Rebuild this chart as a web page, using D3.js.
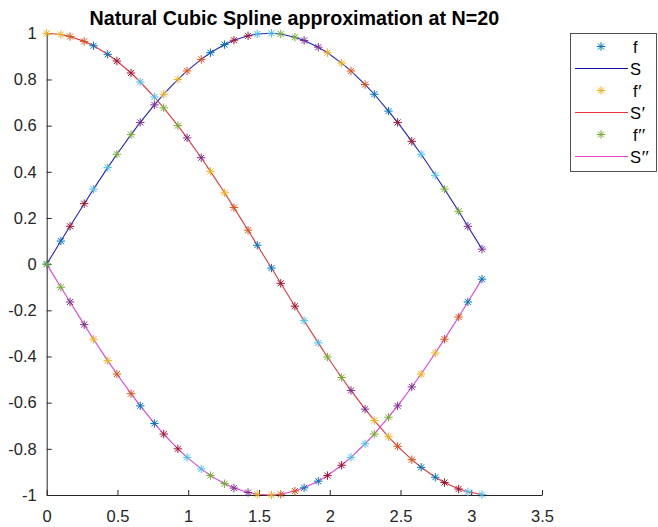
<!DOCTYPE html>
<html>
<head>
<meta charset="utf-8">
<script src="https://cdn.jsdelivr.net/npm/d3@7"></script>
<style>
  body { margin: 0; background: #fff; }
  svg { font-family: "Liberation Sans", Arial, Helvetica, sans-serif; }
</style>
</head>
<body>
<svg id="chart" width="658" height="527"></svg>
<script>
// sample points: two per knot interval (knot, knot + 0.1)
var xs = [0.000, 0.100, 0.165, 0.265, 0.331, 0.431, 0.496, 0.596, 0.661, 0.761,
          0.827, 0.927, 0.992, 1.092, 1.157, 1.257, 1.323, 1.423, 1.488, 1.588,
          1.654, 1.754, 1.819, 1.919, 1.984, 2.084, 2.150, 2.250, 2.315, 2.415,
          2.480, 2.580, 2.646, 2.746, 2.811, 2.911, 2.976, 3.076];
var fVals = [0.000, 0.100, 0.164, 0.262, 0.325, 0.418, 0.476, 0.561, 0.614, 0.690,
             0.736, 0.800, 0.837, 0.887, 0.916, 0.951, 0.970, 0.989, 0.997, 1.000,
             0.997, 0.983, 0.969, 0.940, 0.916, 0.871, 0.837, 0.778, 0.736, 0.663,
             0.614, 0.532, 0.476, 0.385, 0.325, 0.229, 0.164, 0.065];
var dfVals = [1.000, 0.995, 0.986, 0.965, 0.946, 0.909, 0.880, 0.828, 0.789, 0.724,
              0.677, 0.600, 0.547, 0.461, 0.402, 0.309, 0.245, 0.147, 0.082, -0.017,
              -0.083, -0.182, -0.245, -0.341, -0.402, -0.491, -0.547, -0.628, -0.677, -0.748,
              -0.789, -0.847, -0.880, -0.923, -0.946, -0.974, -0.986, -0.998];
var ddfVals = [0.000, -0.100, -0.164, -0.262, -0.325, -0.418, -0.476, -0.561, -0.614, -0.690,
               -0.736, -0.800, -0.837, -0.887, -0.916, -0.951, -0.970, -0.989, -0.997, -1.000,
               -0.997, -0.983, -0.969, -0.940, -0.916, -0.871, -0.837, -0.778, -0.736, -0.663,
               -0.614, -0.532, -0.476, -0.385, -0.325, -0.229, -0.164, -0.065];
// spline values coincide with the exact ones at this resolution
var sVals = fVals, dsVals = dfVals, ddsVals = ddfVals;

var xTicks = [0, 0.5, 1, 1.5, 2, 2.5, 3, 3.5];
var yTicks = [-1, -0.8, -0.6, -0.4, -0.2, 0, 0.2, 0.4, 0.6, 0.8, 1];
var legendLabels = ['f', 'S', 'f', 'S', 'f', 'S'];
var legendPrimes = ['', '', '\u2032', '\u2032', '\u2033', '\u2033'];

var colorOrder = ['#0072BD', '#D95319', '#EDB120', '#7E2F8E', '#77AC30', '#4DBEEE', '#A2142F'];
var axisColor = '#262626';

var svg = d3.select('#chart');
var x = d3.scaleLinear().domain([0, 3.5]).range([46.7, 542]);
var y = d3.scaleLinear().domain([-1, 1]).range([495, 33.3]);

// matlab style labels: plain hyphen for minus
var fmt = function (d) { return String(d); };

// axes (ticks point inward, no box)
var xAxis = d3.axisBottom(x).tickValues(xTicks).tickSizeInner(-5).tickSizeOuter(0)
    .tickPadding(15).tickFormat(fmt);
var yAxis = d3.axisLeft(y).tickValues(yTicks).tickSizeInner(-5).tickSizeOuter(0)
    .tickPadding(10).tickFormat(fmt);

var gx = svg.append('g').attr('transform', 'translate(0,' + y(-1) + ')').call(xAxis);
var gy = svg.append('g').attr('transform', 'translate(' + x(0) + ',0)').call(yAxis);
[gx, gy].forEach(function (g) {
    g.select('.domain').attr('stroke', axisColor).attr('stroke-width', 1);
    g.selectAll('.tick line').attr('stroke', axisColor);
    g.selectAll('.tick text').attr('fill', axisColor).style('font-size', '16.5px')
        .style('font-family', '"Liberation Sans", Arial, sans-serif');
});

svg.append('text')
    .attr('x', (x(0) + x(3.5)) / 2).attr('y', 25)
    .attr('text-anchor', 'middle')
    .style('font-size', '19.7px').style('font-weight', 'bold').attr('fill', '#000')
    .text('Natural Cubic Spline approximation at N=20');

var plot = svg.append('g');
var lineFor = function (vals) {
    return d3.line().x(function (d, i) { return x(xs[i]); }).y(function (d) { return y(d); })(vals);
};
var lines = [
    { vals: sVals, color: '#2424c8' },
    { vals: dsVals, color: '#e8353a' },
    { vals: ddsVals, color: '#e53de0' }
];
lines.forEach(function (l) {
    plot.append('path').attr('d', lineFor(l.vals))
        .attr('fill', 'none').attr('stroke', l.color).attr('stroke-width', 1.1);
});

var starPath = 'M-4.2,0H4.2M0,-4.2V4.2M-3,-3L3,3M-3,3L3,-3';
// each interval was plotted as its own series, so the colour order advances per pair
var markerSets = [
    { vals: fVals, offset: 0 },
    { vals: dfVals, offset: 2 },
    { vals: ddfVals, offset: 4 }
];
markerSets.forEach(function (m) {
    plot.selectAll(null)
        .data(m.vals)
        .enter()
        .append('path')
        .attr('d', starPath)
        .attr('transform', function (d, i) { return 'translate(' + x(xs[i]) + ',' + y(d) + ')'; })
        .attr('fill', 'none')
        .attr('stroke-width', 1)
        .attr('stroke', function (d, i) {
            var pair = Math.floor(i / 2);
            return colorOrder[(6 * pair + m.offset) % 7];
        });
});

// legend
var lg = svg.append('g');
lg.append('rect').attr('x', 570.5).attr('y', 33.5).attr('width', 86).attr('height', 138)
    .attr('fill', '#fff').attr('stroke', axisColor).attr('stroke-width', 0.8);
var legendStyle = [
    { type: 'marker', color: colorOrder[0] },
    { type: 'line', color: '#1010a0' },
    { type: 'marker', color: colorOrder[2] },
    { type: 'line', color: '#e8353a' },
    { type: 'marker', color: colorOrder[4] },
    { type: 'line', color: '#e53de0' }
];
legendLabels.forEach(function (lab, i) {
    var cy = 46.5 + i * 22;
    var s = legendStyle[i];
    if (s.type === 'marker') {
        lg.append('path').attr('d', starPath).attr('transform', 'translate(601,' + cy + ')')
            .attr('fill', 'none').attr('stroke', s.color).attr('stroke-width', 1);
    } else {
        lg.append('line').attr('x1', 575).attr('x2', 628).attr('y1', cy).attr('y2', cy)
            .attr('stroke', s.color).attr('stroke-width', 1.1);
    }
    var t = lg.append('text').attr('x', lab === 'f' ? 633 : 630).attr('y', cy + 6)
        .style('font-size', '16.5px').attr('fill', '#000').text(lab);
    if (legendPrimes[i]) {
        t.append('tspan').attr('dx', 0.5).attr('dy', 1).style('font-size', '19px')
            .style('font-family', '"Liberation Serif", "DejaVu Serif", serif').text(legendPrimes[i]);
    }
});
</script>
</body>
</html>
